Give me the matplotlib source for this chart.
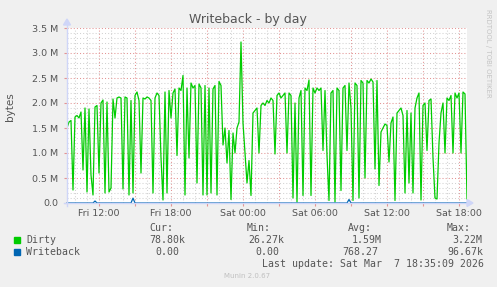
import matplotlib
matplotlib.use("Agg")
import matplotlib.pyplot as plt
import matplotlib.dates as mdates
from matplotlib.patches import Polygon, Rectangle
from matplotlib.ticker import MultipleLocator, FuncFormatter
import pandas as pd

# ---------------- data ----------------
start_time = "2026-03-06 09:20"   # Fri, 10-minute samples
sample_freq = "10min"

# Dirty bytes, in millions (M)
dirty_m = [
    1.50, 1.62, 1.65, 0.26, 1.72, 1.75, 1.70, 1.82, 0.66, 1.90,
    0.22, 1.88, 0.56, 0.16, 1.92, 1.95, 0.60, 2.00, 2.06, 0.20,
    2.02, 0.22, 0.30, 2.08, 1.70, 2.10, 2.12, 2.10, 0.28, 2.12,
    2.10, 0.16, 2.05, 0.20, 2.15, 2.22, 2.05, 0.60, 2.10, 2.08,
    2.12, 2.10, 2.05, 0.20, 2.10, 2.20, 2.15, 0.90, 0.06, 2.22,
    0.20, 2.25, 1.70, 2.20, 2.28, 0.95, 2.30, 2.25, 2.55, 0.16,
    2.30, 0.90, 2.40, 2.30, 2.35, 0.40, 2.38, 2.30, 0.16, 2.35,
    0.16, 2.30, 0.20, 2.28, 2.35, 0.16, 2.43, 2.35, 1.16, 1.50,
    0.80, 1.45, 0.07, 1.40, 1.00, 1.50, 1.62, 3.22, 1.60, 1.00,
    0.40, 0.85, 0.15, 1.80, 1.85, 1.90, 1.00, 1.95, 2.00, 1.95,
    2.05, 2.00, 2.10, 2.05, 0.98, 2.15, 2.20, 2.10, 2.15, 2.20,
    1.00, 2.20, 2.15, 0.10, 2.00, 0.02, 2.10, 2.25, 0.15, 2.30,
    2.25, 2.46, 0.15, 2.30, 2.20, 2.30, 2.25, 2.30, 1.05, 2.25,
    0.95, 0.05, 2.20, 2.25, 0.02, 2.30, 2.25, 0.25, 2.30, 2.35,
    1.05, 2.40, 1.90, 0.05, 2.40, 2.35, 0.10, 2.45, 2.40, 0.50,
    2.45, 2.40, 2.48, 2.42, 0.68, 2.45, 0.35, 1.42, 1.50, 1.58,
    1.55, 0.82, 1.60, 1.72, 0.05, 1.80, 1.85, 1.90, 1.75, 0.20,
    1.85, 0.40, 1.80, 0.20, 1.90, 2.10, 2.20, 0.06, 1.95, 2.00,
    1.05, 2.05, 2.08, 0.90, 0.10, 0.08, 1.20, 1.80, 2.00, 1.00,
    2.10, 2.05, 2.15, 1.00, 2.20, 2.10, 2.20, 1.00, 2.22, 2.18,
    0.08,
]
# Writeback bytes, in millions (M): zero except a few small spikes
writeback_m = [0.0] * len(dirty_m)
writeback_spikes = {"2026-03-06 11:40": 0.04,
                    "2026-03-06 14:50": 0.097,
                    "2026-03-07 08:50": 0.07}

y_tick_labels = ["0.0", "0.5 M", "1.0 M", "1.5 M", "2.0 M", "2.5 M", "3.0 M", "3.5 M"]

legend_names = ["Dirty", "Writeback"]
legend_colors = ["#00CC00", "#0066B3"]
legend_cur = ["78.80k", "0.00"]
legend_min = ["26.27k", "0.00"]
legend_avg = ["1.59M", "768.27"]
legend_max = ["3.22M", "96.67k"]
last_update = "Last update: Sat Mar  7 18:35:09 2026"

# ---------------- build ----------------
times = pd.date_range(start_time, periods=len(dirty_m), freq=sample_freq)
wb = pd.Series(writeback_m, index=times)
for t, v in writeback_spikes.items():
    wb[pd.Timestamp(t)] = v
dirty = pd.Series(dirty_m, index=times) * 1e6
wb = wb * 1e6

W, H = 497, 287
fig = plt.figure(figsize=(W / 100, H / 100), dpi=100, facecolor="#F0F0F0")

def fx(x):
    return x / W

def fy(y):
    return 1 - y / H

left, right, top, bottom = 67, 467, 28, 203
ax = fig.add_axes([fx(left), fy(bottom), (right - left) / W, (bottom - top) / H])
ax.set_facecolor("white")
for s in ax.spines.values():
    s.set_visible(False)

FONT = "#555555"
ax.set_ylim(0, 3.5e6)
ax.set_xlim(times[0], times[-1])

ax.yaxis.set_major_locator(MultipleLocator(0.5e6))
ax.yaxis.set_minor_locator(MultipleLocator(0.1e6))
ax.yaxis.set_major_formatter(FuncFormatter(
    lambda v, p: y_tick_labels[int(round(v / 0.5e6))] if 0 <= round(v / 0.5e6) < len(y_tick_labels) else ""))

ax.xaxis.set_major_locator(mdates.HourLocator(byhour=range(0, 24, 3)))
ax.xaxis.set_minor_locator(mdates.HourLocator())
ax.xaxis.set_major_formatter(FuncFormatter(
    lambda v, p: mdates.num2date(v).strftime("%a %H:%M") if mdates.num2date(v).hour % 6 == 0 else ""))

ax.grid(which="minor", color="#D2D2D2", linestyle=(0, (1, 2)), linewidth=0.75)
ax.grid(which="major", color="#E39494", linestyle=(0, (1, 2)), linewidth=0.75)
ax.set_axisbelow(True)

ax.tick_params(which="major", length=2, color="#E39494", labelsize=6.8, labelcolor=FONT)
ax.tick_params(which="minor", length=0)
ax.tick_params(axis="y", pad=4.2)
ax.tick_params(axis="x", pad=2.5)

# axis lines + arrows
fig.add_artist(plt.Line2D([fx(64), fx(467)], [fy(bottom), fy(bottom)], color="#CFD6F8", lw=1))
fig.add_artist(plt.Line2D([fx(left), fx(left)], [fy(206), fy(24)], color="#CFD6F8", lw=1))
fig.add_artist(Polygon([[fx(467), fy(199.5)], [fx(473), fy(203)], [fx(467), fy(206.5)]],
                       closed=True, color="#CFD6F8", transform=fig.transFigure))
fig.add_artist(Polygon([[fx(63.5), fy(25)], [fx(67), fy(19)], [fx(70.5), fy(25)]],
                       closed=True, color="#CFD6F8", transform=fig.transFigure))

ax.plot(dirty.index, dirty.values, color=legend_colors[0], lw=0.9, zorder=3)
ax.plot(wb.index, wb.values, color=legend_colors[1], lw=0.9, zorder=4, clip_on=False)

# title and labels
fig.text(fx(248), fy(19), "Writeback - by day", ha="center", va="center", fontsize=9, color=FONT)
fig.text(fx(10), fy(107), "bytes", ha="center", va="center", rotation=90, fontsize=7.5, color=FONT)
fig.text(fx(488), fy(53), "RRDTOOL / TOBI OETIKER", ha="center", va="center", rotation=270,
         fontsize=5, color="#C4C4C4")

# legend
mono = dict(family="DejaVu Sans Mono", fontsize=7.1, color=FONT, va="center", ha="left")
fig.text(fx(149), fy(228), "Cur:", **mono)
fig.text(fx(247), fy(228), "Min:", **mono)
fig.text(fx(348), fy(228), "Avg:", **mono)
fig.text(fx(447), fy(228), "Max:", **mono)

rows_y = [240, 252]
cur_x = [149, 155]
min_x = [248, 255]
avg_x = [352, 342]
max_x = [452, 447]
for i, name in enumerate(legend_names):
    y = rows_y[i]
    fig.add_artist(Rectangle((fx(14), fy(y + 3)), 6 / W, 6 / H, color=legend_colors[i],
                             transform=fig.transFigure))
    fig.text(fx(26), fy(y), name, **mono)
    fig.text(fx(cur_x[i]), fy(y), legend_cur[i], **mono)
    fig.text(fx(min_x[i]), fy(y), legend_min[i], **mono)
    fig.text(fx(avg_x[i]), fy(y), legend_avg[i], **mono)
    fig.text(fx(max_x[i]), fy(y), legend_max[i], **mono)

fig.text(fx(262), fy(264), last_update, **mono)
fig.text(fx(224), fy(276), "Munin 2.0.67", ha="left", va="center", fontsize=5, color="#C0C0C0")

fig.savefig("out.png", dpi=100, facecolor=fig.get_facecolor())
